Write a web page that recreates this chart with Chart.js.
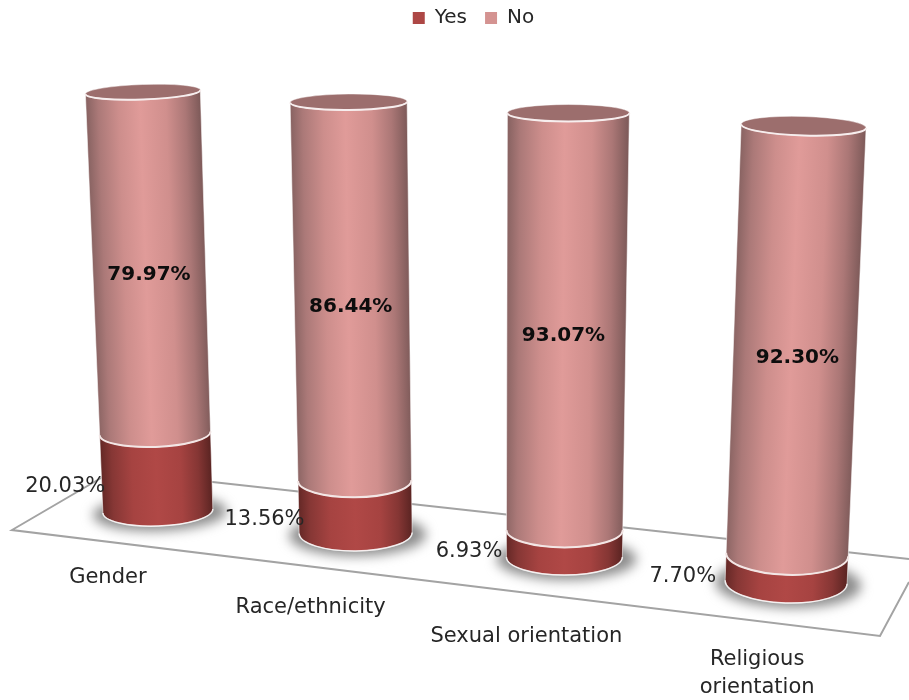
<!DOCTYPE html>
<html>
<head>
<meta charset="utf-8">
<script src="https://cdn.jsdelivr.net/npm/chart.js@4"></script>
<style>html,body{margin:0;padding:0;background:#fff}#w{width:909px;height:700px}</style>
</head>
<body>
<div id="w"><canvas id="c" width="909" height="700"></canvas></div>
<script>
const categories = ["Gender", "Race/ethnicity", "Sexual orientation", "Religious orientation"];
const yesValues = [20.03, 13.56, 6.93, 7.70];
const noValues = [79.97, 86.44, 93.07, 92.30];
const FONT = '"DejaVu Sans", sans-serif';

// Projection of the flat chart onto the tilted 3D stage (per-category offsets from the scales)
const stage = {
  topDx: [-4, -16, -14, 3.5],
  baseDx: [11, -9, -18, -14],
  topDy: [0, 10, 21, 34],
  baseDy: [0, 22, 46, 71],
  rxTop: [57.5, 58.5, 61, 62.5],
  rxBase: [55, 56.5, 58, 61],
  ryTop: [7.5, 8, 8.5, 9.5],
  ryBase: [15, 18, 18, 21],
  tilt: [-0.035, -0.01, 0, 0.03],
  persp: [1.1, 1.13, 1.15, 1.3],
  capTop: 92,
  yesLabel: [[4, 14], [6, 13], [-4, 8], [-9.5, 8]],
  noLabel: [[0, 12], [-1, 16], [-3, 14], [2, 18]],
  catLabel: [[-39, 67], [-54, 97], [-56, 126], [-43, 149]]
};
const noStops = [[0, '#8a6463'], [0.1, '#ab7978'], [0.28, '#cd8e8c'], [0.47, '#e09b99'], [0.7, '#d08f8d'], [0.87, '#ab7776'], [1, '#7f5b5a']];
const yesStops = [[0, '#642826'], [0.1, '#863735'], [0.28, '#a64341'], [0.5, '#b04846'], [0.72, '#a64341'], [0.88, '#853634'], [1, '#5a2422']];

const cylinderPlugin = {
  id: 'cylinders',
  beforeDatasetsDraw(chart) {
    const { ctx, scales } = chart;
    const xs = scales.x, ys = scales.y;
    const yTop = ys.getPixelForValue(100), yBase = ys.getPixelForValue(0);
    const W = chart.width;

    // floor
    ctx.save();
    ctx.strokeStyle = '#a3a3a3';
    ctx.lineWidth = 2;
    ctx.beginPath();
    ctx.moveTo(113, yBase - 40);
    ctx.lineTo(12, yBase + 19);
    ctx.lineTo(880, yBase + 125);
    ctx.lineTo(W, yBase + 71);
    ctx.moveTo(113, yBase - 40);
    ctx.lineTo(W, yBase + 48);
    ctx.stroke();
    ctx.restore();

    const metaYes = chart.getDatasetMeta(0), metaNo = chart.getDatasetMeta(1);

    const geom = (i, px) => {
      const p = (yBase - px) / (yBase - yTop);
      const w = stage.persp[i];
      const s = p / (p + (1 - p) * w);
      const x0 = xs.getPixelForValue(i);
      const bx = x0 + stage.baseDx[i], tx = x0 + stage.topDx[i];
      const by = yBase + stage.baseDy[i], ty = stage.capTop + stage.topDy[i];
      return {
        cx: bx + (tx - bx) * s,
        cy: by + (ty - by) * s,
        rx: stage.rxBase[i] + (stage.rxTop[i] - stage.rxBase[i]) * s,
        ry: stage.ryBase[i] + (stage.ryTop[i] - stage.ryBase[i]) * s,
        tilt: stage.tilt[i]
      };
    };

    const segment = (a, b, stops) => {
      const mx = (a.cx + b.cx) / 2, my = (a.cy + b.cy) / 2, r = (a.rx + b.rx) / 2;
      const ax = b.cx - a.cx, ay = b.cy - a.cy, L = Math.hypot(ax, ay) || 1;
      const nx = -ay / L, ny = ax / L;
      const g = ctx.createLinearGradient(mx - nx * r, my - ny * r, mx + nx * r, my + ny * r);
      stops.forEach(s => g.addColorStop(s[0], s[1]));
      ctx.beginPath();
      ctx.ellipse(a.cx, a.cy, a.rx, a.ry, a.tilt, 0, Math.PI);
      ctx.ellipse(b.cx, b.cy, b.rx, b.ry, b.tilt, Math.PI, 0, true);
      ctx.closePath();
      ctx.fillStyle = g;
      ctx.fill();
      ctx.strokeStyle = 'rgba(255,255,255,0.55)';
      ctx.lineWidth = 1;
      ctx.stroke();
    };
    const rim = (e, width, color) => {
      ctx.beginPath();
      ctx.ellipse(e.cx, e.cy, e.rx, e.ry, e.tilt, 0, Math.PI);
      ctx.strokeStyle = color;
      ctx.lineWidth = width;
      ctx.stroke();
    };

    categories.forEach((_, i) => {
      const yesEl = metaYes.data[i], noEl = metaNo.data[i];
      const base = geom(i, yesEl.base);
      const mid = geom(i, yesEl.y);
      const top = geom(i, noEl.y);

      // soft floor shadow
      ctx.save();
      ctx.filter = 'blur(6px)';
      ctx.fillStyle = '#8c8c8c';
      ctx.beginPath();
      ctx.ellipse(base.cx + 2, base.cy + 2, base.rx + 12, base.ry + 3, base.tilt, 0, Math.PI * 2);
      ctx.fill();
      ctx.restore();

      ctx.save();
      segment(base, mid, yesStops);
      segment(mid, top, noStops);
      rim(base, 1.5, 'rgba(255,255,255,0.8)');
      rim(mid, 2, '#f3e6e5');
      // cap
      ctx.beginPath();
      ctx.ellipse(top.cx, top.cy, top.rx, top.ry, top.tilt, 0, Math.PI * 2);
      ctx.fillStyle = '#9c6e6d';
      ctx.fill();
      ctx.strokeStyle = 'rgba(255,255,255,0.45)';
      ctx.lineWidth = 1;
      ctx.stroke();
      rim(top, 2, '#f7eeee');
      ctx.restore();
    });

    // labels
    ctx.save();
    ctx.textBaseline = 'middle';
    ctx.fillStyle = '#262626';
    categories.forEach((name, i) => {
      const yesEl = metaYes.data[i], noEl = metaNo.data[i];
      const base = geom(i, yesEl.base), mid = geom(i, yesEl.y), top = geom(i, noEl.y);

      ctx.font = '21px ' + FONT;
      ctx.textAlign = 'right';
      const yl = stage.yesLabel[i];
      ctx.fillText(yesValues[i].toFixed(2) + '%', (base.cx + mid.cx) / 2 - (base.rx + mid.rx) / 2 + yl[0], (base.cy + mid.cy) / 2 + yl[1]);

      ctx.font = 'bold 20px ' + FONT;
      ctx.textAlign = 'center';
      ctx.fillStyle = '#0d0d0d';
      const nl = stage.noLabel[i];
      ctx.fillText(noValues[i].toFixed(2) + '%', (top.cx + mid.cx) / 2 + nl[0], (top.cy + mid.cy) / 2 + nl[1]);
      ctx.fillStyle = '#262626';

      ctx.font = '21px ' + FONT;
      const cl = stage.catLabel[i];
      const lx = xs.getPixelForValue(i) + cl[0], ly = yBase + cl[1];
      const words = name.indexOf('Religious') === 0 ? name.split(' ') : [name];
      words.forEach((t, k) => ctx.fillText(t, lx, ly + k * 28));
    });
    ctx.restore();
    return false;
  }
};

new Chart(document.getElementById('c'), {
  type: 'bar',
  data: {
    labels: categories,
    datasets: [
      { label: 'Yes', data: yesValues, backgroundColor: '#ad4745' },
      { label: 'No', data: noValues, backgroundColor: '#d49391' }
    ]
  },
  options: {
    responsive: false,
    animation: false,
    layout: { padding: { left: 38, right: 0, top: -10, bottom: 189 } },
    scales: {
      x: { stacked: true, display: false },
      y: { stacked: true, display: false, min: 0, max: 100 }
    },
    plugins: {
      legend: {
        position: 'top',
        labels: {
          boxWidth: 12, boxHeight: 12, padding: 18, color: '#262626',
          font: { family: FONT, size: 20 }
        }
      },
      tooltip: { enabled: false }
    }
  },
  plugins: [cylinderPlugin]
});
</script>
</body>
</html>
